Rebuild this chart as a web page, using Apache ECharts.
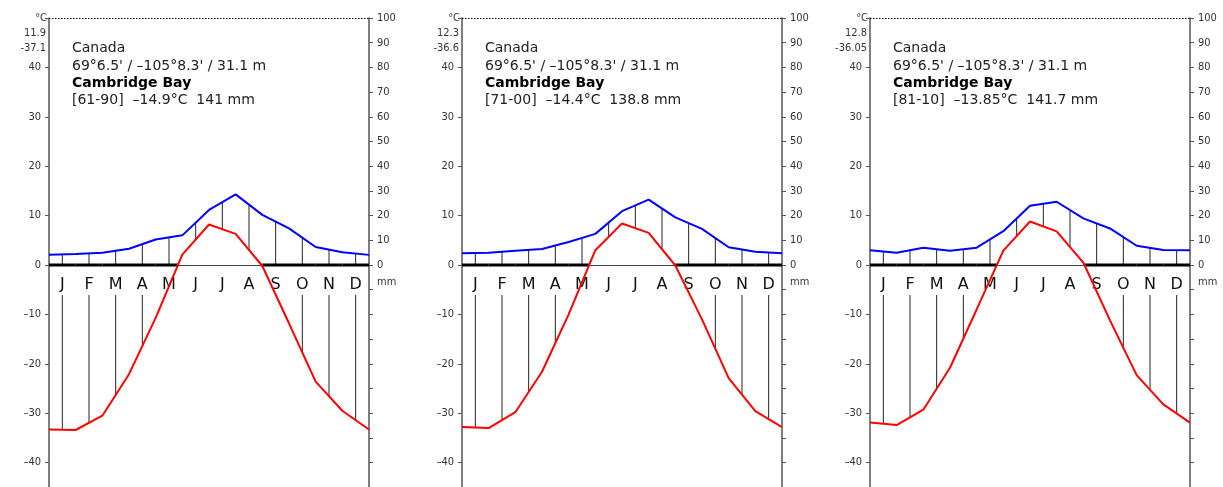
<!DOCTYPE html>
<html>
<head>
<meta charset="utf-8">
<script src="https://cdn.jsdelivr.net/npm/echarts@6/dist/echarts.min.js"></script>
<style>
  html, body { margin: 0; background: #fff; }
  #chart { width: 1223px; height: 487px; }
</style>
</head>
<body>
<div id="chart"></div>
<script>
// month labels
const months = ['J', 'F', 'M', 'A', 'M', 'J', 'J', 'A', 'S', 'O', 'N', 'D'];

// monthly mean temperature (°C) and precipitation (mm), Cambridge Bay
const temp6190 = [-33.3, -33.4, -30.5, -22.1, -10.7, 2.1, 8.2, 6.3, -0.2, -11.8, -23.6, -29.5];
const prec6190 = [4.1, 4.5, 5.0, 6.6, 10.3, 12.0, 22.3, 28.6, 20.3, 14.8, 7.3, 5.2];
const temp7100 = [-32.8, -33.0, -29.8, -21.6, -10.0, 3.0, 8.4, 6.5, -0.1, -11.0, -22.9, -29.6];
const prec7100 = [4.8, 5.0, 5.8, 6.5, 9.3, 12.6, 21.8, 26.5, 19.3, 14.6, 7.2, 5.4];
const temp8110 = [-31.9, -32.4, -29.3, -20.8, -9.0, 2.9, 8.8, 6.8, 0.5, -11.2, -22.3, -28.2];
const prec8110 = [6.0, 5.0, 7.0, 5.8, 7.0, 13.7, 24.0, 25.6, 18.9, 14.8, 7.8, 6.1];

// header texts
const country = 'Canada';
const coords = "69°6.5' / –105°8.3' / 31.1 m";
const station = 'Cambridge Bay';
const periods = ['[61-90]', '[71-00]', '[81-10]'];
const meanTemps = ['–14.9°C', '–14.4°C', '–13.85°C'];
const sumPrecs = ['141 mm', '138.8 mm', '141.7 mm'];
const maxTemps = ['11.9', '12.3', '12.8'];
const minTemps = ['-37.1', '-36.6', '-36.05'];

const temps = [temp6190, temp7100, temp8110];
const precs = [prec6190, prec7100, prec8110];

const gridLeft = [49, 462, 870];
const font = "'DejaVu Sans', sans-serif";
const tickFont = "'DejaVu Sans Condensed', 'Liberation Sans', sans-serif";

const chart = echarts.init(document.getElementById('chart'));

// jan again at the right edge
const wrap = arr => arr.concat([arr[0]]);

// vertical hatch lines between temperature and precipitation curves
const hatchItem = (params, api) => {
  const x = api.value(0);
  const a = api.coord([x, api.value(1)]);
  const b = api.coord([x, api.value(2)]);
  const z0 = api.coord([x, 0])[1];
  const top = Math.min(a[1], b[1]);
  const bot = Math.max(a[1], b[1]);
  const gapA = z0, gapB = z0 + 30;
  const segs = [];
  if (top < gapA) segs.push([top, Math.min(bot, gapA)]);
  if (bot > gapB) segs.push([Math.max(top, gapB), bot]);
  return {
    type: 'group',
    children: segs.map(s => ({
      type: 'line',
      shape: {x1: a[0], y1: s[0], x2: a[0], y2: s[1]},
      style: {stroke: '#222', lineWidth: 1}
    }))
  };
};

// month letters just under the zero line
const monthItem = (params, api) => {
  const p = api.coord([api.value(0), 0]);
  return {
    type: 'text', x: p[0], y: p[1] + 20,
    style: {text: months[params.dataIndex], font: '16px ' + font, fill: '#111', align: 'center', verticalAlign: 'middle'}
  };
};

// thick black bar on the zero line where the temperature is below 0
const frostItem = (params, api) => {
  const k = api.value(0), t0 = api.value(1), t1 = api.value(2);
  let xa = null, xb = null;
  if (t0 < 0 && t1 < 0) { xa = k; xb = k + 1; }
  else if (t0 < 0) { xa = k; xb = k + t0 / (t0 - t1); }
  else if (t1 < 0) { xa = k + t0 / (t0 - t1); xb = k + 1; }
  if (xa === null) return;
  const p1 = api.coord([xa, 0]), p2 = api.coord([xb, 0]);
  return {
    type: 'line',
    shape: {x1: p1[0], y1: p1[1], x2: p2[0], y2: p2[1]},
    style: {stroke: '#000', lineWidth: 3, lineCap: 'butt'}
  };
};

const grid = [], xAxis = [], yAxis = [], series = [], graphic = [];

temps.forEach((temp, i) => {
  const prec = precs[i];
  const L = gridLeft[i];
  grid.push({left: L, top: 18, width: 320, height: 494, outerBoundsMode: 'none', containLabel: false});

  xAxis.push({type: 'value', gridIndex: i, min: 0, max: 12, show: false, axisLine: {onZero: false}});
  xAxis.push({
    type: 'category', gridIndex: i, position: 'bottom', data: months, boundaryGap: true,
    axisLine: {onZero: true, onZeroAxisIndex: 2 * i, lineStyle: {color: '#444', width: 1}},
    axisTick: {length: 4, lineStyle: {color: '#333'}},
    axisLabel: {show: false}
  });

  yAxis.push({
    type: 'value', gridIndex: i, min: -50, max: 50, interval: 10,
    axisLine: {show: true, onZero: false, lineStyle: {color: '#555', width: 1.5}},
    axisTick: {show: true, length: 4, lineStyle: {color: '#555'}},
    splitLine: {show: false},
    axisLabel: {
      margin: 8, fontSize: 11, color: '#333', fontFamily: tickFont,
      formatter: v => (v >= 50 || v <= -50) ? '' : (v < 0 ? '–' + (-v) : String(v))
    }
  });
  yAxis.push({
    type: 'value', gridIndex: i, position: 'right', min: -100, max: 100, interval: 10,
    axisLine: {show: true, onZero: false, lineStyle: {color: '#555', width: 1.5}},
    axisTick: {show: true, length: 4, lineStyle: {color: '#555'}},
    splitLine: {show: false},
    axisLabel: {
      margin: 8, fontSize: 11, color: '#333', fontFamily: tickFont,
      formatter: v => v >= 0 ? String(v) : ''
    }
  });

  const tw = wrap(temp), pw = wrap(prec);

  series.push({
    type: 'custom', xAxisIndex: 2 * i, yAxisIndex: 2 * i, z: 1, silent: true,
    renderItem: hatchItem,
    data: months.map((m, k) => [k + 0.5, (tw[k] + tw[k + 1]) / 2, (pw[k] + pw[k + 1]) / 4])
  });
  series.push({
    type: 'custom', xAxisIndex: 2 * i, yAxisIndex: 2 * i, z: 2, silent: true,
    renderItem: frostItem,
    data: months.map((m, k) => [k, tw[k], tw[k + 1]])
  });
  series.push({
    type: 'custom', xAxisIndex: 2 * i, yAxisIndex: 2 * i, z: 3, silent: true,
    renderItem: monthItem,
    data: months.map((m, k) => [k + 0.5, 0])
  });
  series.push({
    type: 'line', xAxisIndex: 2 * i, yAxisIndex: 2 * i + 1, z: 4, silent: true,
    data: pw.map((v, k) => [k, v]), showSymbol: false,
    lineStyle: {color: '#0000ff', width: 2}
  });
  series.push({
    type: 'line', xAxisIndex: 2 * i, yAxisIndex: 2 * i, z: 5, silent: true,
    data: tw.map((v, k) => [k, v]), showSymbol: false,
    lineStyle: {color: '#ff0000', width: 2},
    markLine: {
      symbol: 'none', silent: true, label: {show: false},
      lineStyle: {type: [1.5, 1.5], color: '#000', width: 1},
      data: [{yAxis: 50}]
    }
  });

  // texts around the panel
  const txt = (x, y, text, extra) => graphic.push({
    type: 'text', x: x, y: y, silent: true,
    style: Object.assign({text: text, font: '14px ' + font, fill: '#222', verticalAlign: 'middle'}, extra || {})
  });
  txt(L + 23, 48, country);
  txt(L + 23, 66, coords);
  txt(L + 23, 83, station, {font: 'bold 14px ' + font, fill: '#000'});
  txt(L + 23, 100, periods[i] + '  ' + meanTemps[i] + '  ' + sumPrecs[i]);
  const small = {font: '11px ' + tickFont, fill: '#333', align: 'right'};
  txt(L - 2, 18, '°C', small);
  txt(L - 3, 33, maxTemps[i], small);
  txt(L - 3, 48, minTemps[i], small);
  txt(L + 328, 282, 'mm', {font: '11px ' + tickFont, fill: '#333', align: 'left'});
});

chart.setOption({
  animation: false,
  grid: grid,
  xAxis: xAxis,
  yAxis: yAxis,
  series: series,
  graphic: graphic
});
</script>
</body>
</html>
